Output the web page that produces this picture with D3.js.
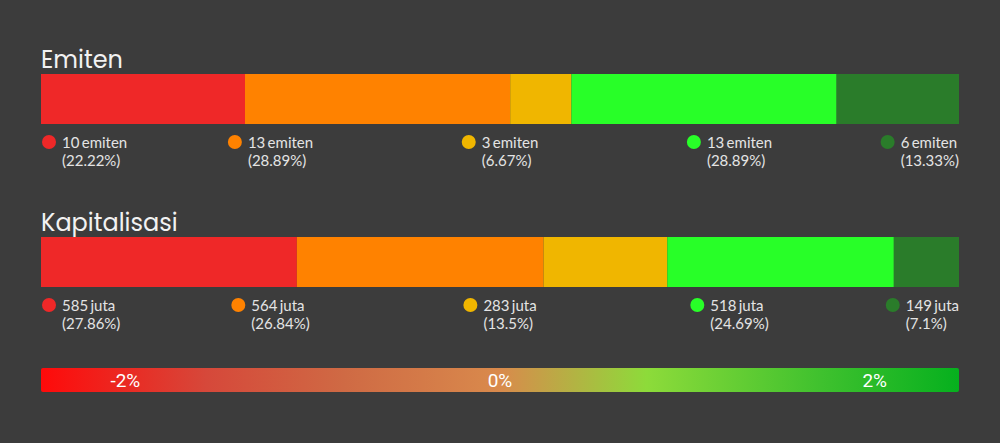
<!DOCTYPE html>
<html>
<head>
	<title>Emiten & Kapitalisasi</title>
	<script src="https://cdn.jsdelivr.net/npm/d3@7"></script>
	<style>
		body { margin: 0; background: #3c3c3c; }
		.title { fill: #f2f2f2; font-family: Poppins, "Open Sans", sans-serif; font-size: 24px; }
		.lbl { fill: #e4e4e4; font-family: Lato, sans-serif; font-size: 15px; word-spacing: -1.5px; }
		.grad-lbl { fill: #ffffff; font-family: Roboto, sans-serif; font-size: 19px; }
	</style>
</head>
<body>
<svg width="1000" height="443"></svg>

<script type="text/javascript">
var width = 1000, height = 443;
var left = 41, right = 959;

var groups = ["Emiten", "Kapitalisasi"];
var units = ["emiten", "juta"];
var colors = ["#ef2828", "#ff8200", "#f0b600", "#28ff28", "#2a7c2a"];

var emitenValues = [10, 13, 3, 13, 6];
var emitenPct = ["22.22%", "28.89%", "6.67%", "28.89%", "13.33%"];
var kapValues = [585, 564, 283, 518, 149];
var kapPct = ["27.86%", "26.84%", "13.5%", "24.69%", "7.1%"];

var gradTicks = [-2, 0, 2];
var gradColors = ["#ff0a0a", "#d6483a", "#cf6a44", "#d98a4c", "#8ddb3a", "#3fc12e", "#06b01e"];
var gradOffsets = [0, 0.18, 0.33, 0.5, 0.66, 0.85, 1];

var series = [
	{ name: groups[0], unit: units[0], values: emitenValues, pct: emitenPct },
	{ name: groups[1], unit: units[1], values: kapValues, pct: kapPct }
];

var svg = d3.select('svg');
var panelStep = 163;

series.forEach(function(s, si) {
	var top = 74 + si * panelStep;
	var total = d3.sum(s.values);
	var x = d3.scaleLinear().domain([0, total]).range([left, right]);
	var cum = d3.cumsum(s.values);
	var segs = s.values.map(function(v, i) {
		return { v: v, x0: cum[i] - v, x1: cum[i], i: i };
	});

	var g = svg.append('g');

	g.append('text')
		.attr('class', 'title')
		.attr('x', left)
		.attr('y', top - 6)
		.text(s.name);

	g.selectAll('rect')
		.data(segs)
		.enter()
		.append('rect')
		.attr('x', function(d) { return x(d.x0); })
		.attr('y', top)
		.attr('width', function(d) { return x(d.x1) - x(d.x0); })
		.attr('height', 50)
		.attr('fill', function(d) { return colors[d.i]; });

	// legend items spread like space-between
	var pos = d3.scalePoint().domain(d3.range(segs.length)).range([left, right]);
	var items = g.selectAll('g.item')
		.data(segs)
		.enter()
		.append('g')
		.attr('class', 'item');

	items.append('circle')
		.attr('cx', 7)
		.attr('cy', top + 68)
		.attr('r', 7)
		.attr('fill', function(d) { return colors[d.i]; });

	items.append('text')
		.attr('class', 'lbl')
		.attr('x', 20)
		.attr('y', top + 74)
		.text(function(d) { return d.v + ' ' + s.unit; });

	items.append('text')
		.attr('class', 'lbl')
		.attr('x', 20)
		.attr('y', top + 92)
		.text(function(d) { return '(' + s.pct[d.i] + ')'; });

	items.each(function(d, i) {
		var bb = this.getBBox();
		var px = pos(i);
		var tx;
		if (i === 0) tx = px - bb.x + 1;
		else if (i === segs.length - 1) tx = px - (bb.x + bb.width);
		else tx = px - bb.x - bb.width / 2;
		d3.select(this).attr('transform', 'translate(' + tx + ',0)');
	});
});

// gradient scale bar
var defs = svg.append('defs');
var lg = defs.append('linearGradient').attr('id', 'grad');
lg.selectAll('stop')
	.data(gradColors)
	.enter()
	.append('stop')
	.attr('offset', function(d, i) { return gradOffsets[i]; })
	.attr('stop-color', function(d) { return d; });

svg.append('rect')
	.attr('x', left)
	.attr('y', 368)
	.attr('width', right - left)
	.attr('height', 24)
	.attr('rx', 2)
	.attr('fill', 'url(#grad)');

var gx = d3.scaleLinear().domain([-2.45, 2.45]).range([left, right]);
svg.selectAll('text.grad-lbl')
	.data(gradTicks)
	.enter()
	.append('text')
	.attr('class', 'grad-lbl')
	.attr('x', function(d) { return gx(d); })
	.attr('y', 387)
	.attr('text-anchor', 'middle')
	.text(function(d) { return d + '%'; });
</script>
</body>
</html>
